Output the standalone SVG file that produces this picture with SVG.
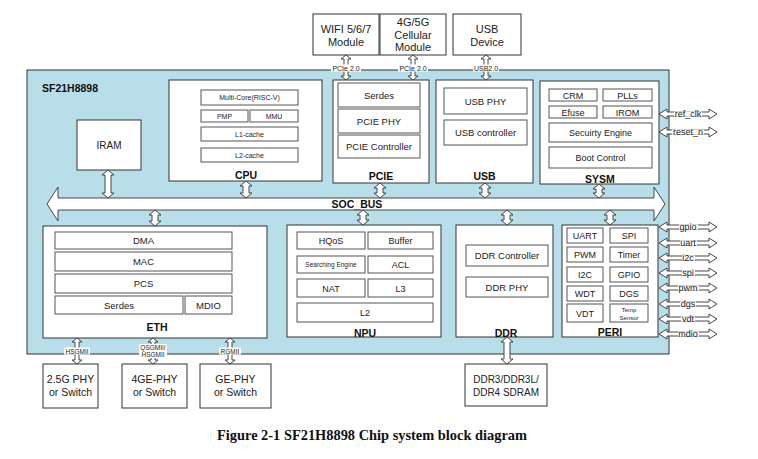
<svg xmlns="http://www.w3.org/2000/svg" xmlns:xlink="http://www.w3.org/1999/xlink" width="758" height="459" viewBox="0 0 758 459">
<style>
.chip{fill:#b8dee9;stroke:#333;stroke-width:1}
.box{fill:#fff;stroke:#333;stroke-width:1}
.sub{fill:#fff;stroke:#555;stroke-width:1}
.arr{fill:#fff;stroke:#333;stroke-width:0.9}
.bg{fill:#fff;stroke:none}
text{font-family:"Liberation Sans",Arial,Helvetica,sans-serif;fill:#222;text-anchor:middle}
.f11{font-size:11px}
.f105{font-size:10.5px}
.f10{font-size:10px}
.f95{font-size:9.5px}
.f9{font-size:9px}
.f7{font-size:7px}
.f65{font-size:6.5px}
.f6{font-size:6px}
.b{font-weight:bold;fill:#111}
.cap{font-family:"Liberation Serif","Times New Roman",serif;font-size:14.4px;font-weight:bold;fill:#111}
</style>
<defs>
<path id="sig" d="M0 0 L8 -5 V-2 H50 V-5 L58 0 L50 5 V2 H8 V5 Z"/>
</defs>
<rect width="758" height="459" fill="#fff"/>

<g id="chip">
<rect class="chip" x="27" y="70" width="642" height="284"/>
<text class="f105 b" x="42" y="92" style="text-anchor:start">SF21H8898</text>
</g>

<g id="wifi">
<rect class="box" x="313" y="14" width="66" height="41"/>
<text class="f11" x="346" y="33">WIFI 5/6/7</text>
<text class="f11" x="346" y="45.5">Module</text>
</g>
<g id="cellular">
<rect class="box" x="380" y="14" width="66" height="41"/>
<text class="f11" x="413" y="26">4G/5G</text>
<text class="f11" x="413" y="38.5">Cellular</text>
<text class="f11" x="413" y="51">Module</text>
</g>
<g id="usbdev">
<rect class="box" x="453" y="14" width="68" height="41"/>
<text class="f11" x="487" y="33">USB</text>
<text class="f11" x="487" y="45.5">Device</text>
</g>

<g id="iram">
<rect class="box" x="77" y="120" width="64" height="50"/>
<text class="f10" x="109" y="148.5">IRAM</text>
</g>

<g id="cpu">
<rect class="box" x="169" y="80" width="153" height="101"/>
<rect class="sub" x="201" y="90" width="97" height="15"/>
<text class="f7" x="249.5" y="100">Multi-Core(RISC-V)</text>
<rect class="sub" x="201" y="110" width="47" height="12"/>
<text class="f7" x="224.5" y="118.5">PMP</text>
<rect class="sub" x="250" y="110" width="48" height="12"/>
<text class="f7" x="274" y="118.5">MMU</text>
<rect class="sub" x="201" y="127" width="97" height="14"/>
<text class="f7" x="249.5" y="136.5">L1-cache</text>
<rect class="sub" x="201" y="148" width="97" height="14"/>
<text class="f7" x="249.5" y="157.5">L2-cache</text>
<text class="f105 b" x="246" y="179">CPU</text>
</g>

<g id="pcie">
<rect class="box" x="333" y="80" width="96" height="103"/>
<rect class="sub" x="338" y="83" width="82" height="24"/>
<text class="f95" x="379" y="98.5">Serdes</text>
<rect class="sub" x="338" y="109" width="82" height="24"/>
<text class="f95" x="379" y="124.5">PCIE PHY</text>
<rect class="sub" x="338" y="135" width="82" height="23"/>
<text class="f95" x="379" y="150">PCIE Controller</text>
<text class="f105 b" x="381" y="180">PCIE</text>
</g>

<g id="usb">
<rect class="box" x="436" y="80" width="97" height="103"/>
<rect class="sub" x="444" y="88" width="83" height="26"/>
<text class="f95" x="485.5" y="104.5">USB PHY</text>
<rect class="sub" x="444" y="120" width="83" height="25"/>
<text class="f95" x="485.5" y="136">USB controller</text>
<text class="f105 b" x="484.5" y="180">USB</text>
</g>

<g id="sysm">
<rect class="box" x="540" y="81" width="119" height="103"/>
<rect class="sub" x="549" y="89" width="48" height="12"/>
<text class="f9" x="573" y="98.5">CRM</text>
<rect class="sub" x="603" y="89" width="49" height="12"/>
<text class="f9" x="627.5" y="98.5">PLLs</text>
<rect class="sub" x="549" y="106" width="48" height="12"/>
<text class="f9" x="573" y="115.5">Efuse</text>
<rect class="sub" x="603" y="106" width="49" height="12"/>
<text class="f9" x="627.5" y="115.5">IROM</text>
<rect class="sub" x="549" y="123" width="103" height="19"/>
<text class="f9" x="600.5" y="135.5">Secuirty Engine</text>
<rect class="sub" x="549" y="147" width="103" height="21"/>
<text class="f9" x="600.5" y="161">Boot Control</text>
<text class="f105 b" x="600" y="182.5">SYSM</text>
</g>

<g id="soc_bus">
<path class="arr" d="M47 204 L58 187 V198 H654 V187 L665 204 L654 221 V210 H58 V221 Z"/>
<text class="f105 b" x="357" y="208">SOC_BUS</text>
</g>

<g id="eth">
<rect class="box" x="43" y="226" width="224" height="112"/>
<rect class="sub" x="55" y="232" width="177" height="17"/>
<text class="f95" x="143.5" y="244">DMA</text>
<rect class="sub" x="55" y="252" width="177" height="19"/>
<text class="f95" x="143.5" y="265">MAC</text>
<rect class="sub" x="55" y="274" width="177" height="19"/>
<text class="f95" x="143.5" y="287">PCS</text>
<rect class="sub" x="55" y="296" width="128" height="18"/>
<text class="f95" x="119" y="308.5">Serdes</text>
<rect class="sub" x="185" y="296" width="47" height="18"/>
<text class="f95" x="208.5" y="308.5">MDIO</text>
<text class="f105 b" x="157" y="331">ETH</text>
</g>

<g id="npu">
<rect class="box" x="287" y="225" width="154" height="112"/>
<rect class="sub" x="297" y="232" width="68" height="17"/>
<text class="f9" x="331" y="244">HQoS</text>
<rect class="sub" x="368" y="232" width="65" height="17"/>
<text class="f9" x="400.5" y="244">Buffer</text>
<rect class="sub" x="297" y="256" width="68" height="17"/>
<text class="f65" x="331" y="267">Searching Engine</text>
<rect class="sub" x="368" y="256" width="65" height="17"/>
<text class="f9" x="400.5" y="268">ACL</text>
<rect class="sub" x="297" y="279" width="68" height="18"/>
<text class="f9" x="331" y="291.5">NAT</text>
<rect class="sub" x="368" y="279" width="65" height="18"/>
<text class="f9" x="400.5" y="291.5">L3</text>
<rect class="sub" x="297" y="303" width="136" height="19"/>
<text class="f9" x="365" y="315.5">L2</text>
<text class="f105 b" x="365" y="337">NPU</text>
</g>

<g id="ddr">
<rect class="box" x="456" y="225" width="97" height="112"/>
<rect class="sub" x="466" y="245" width="82" height="21"/>
<text class="f95" x="507" y="259">DDR Controller</text>
<rect class="sub" x="466" y="277" width="82" height="20"/>
<text class="f95" x="507" y="290.5">DDR PHY</text>
<text class="f105 b" x="506" y="337">DDR</text>
</g>

<g id="peri">
<rect class="box" x="562" y="225" width="96" height="112"/>
<rect class="sub" x="567" y="228" width="36" height="15"/>
<text class="f9" x="585" y="239">UART</text>
<rect class="sub" x="610" y="228" width="38" height="15"/>
<text class="f9" x="629" y="239">SPI</text>
<rect class="sub" x="567" y="247" width="36" height="15"/>
<text class="f9" x="585" y="258">PWM</text>
<rect class="sub" x="610" y="247" width="38" height="15"/>
<text class="f9" x="629" y="258">Timer</text>
<rect class="sub" x="567" y="267" width="36" height="15"/>
<text class="f9" x="585" y="278">I2C</text>
<rect class="sub" x="610" y="267" width="38" height="15"/>
<text class="f9" x="629" y="278">GPIO</text>
<rect class="sub" x="567" y="286" width="36" height="15"/>
<text class="f9" x="585" y="297">WDT</text>
<rect class="sub" x="610" y="286" width="38" height="15"/>
<text class="f9" x="629" y="297">DGS</text>
<rect class="sub" x="567" y="304" width="36" height="18"/>
<text class="f9" x="585" y="316.5">VDT</text>
<rect class="sub" x="610" y="304" width="38" height="18"/>
<text class="f6" x="629" y="311.5">Temp</text>
<text class="f6" x="629" y="319.5">Sensor</text>
<text class="f105 b" x="610" y="336">PERI</text>
</g>

<g id="phy25">
<rect class="box" x="43" y="364" width="55" height="44"/>
<text class="f105" x="70.5" y="383">2.5G PHY</text>
<text class="f105" x="70.5" y="396">or Switch</text>
</g>
<g id="phy4ge">
<rect class="box" x="122" y="364" width="65" height="44"/>
<text class="f105" x="154.5" y="383">4GE-PHY</text>
<text class="f105" x="154.5" y="396">or Switch</text>
</g>
<g id="phyge">
<rect class="box" x="200" y="364" width="71" height="44"/>
<text class="f105" x="235.5" y="383">GE-PHY</text>
<text class="f105" x="235.5" y="396">or Switch</text>
</g>
<g id="sdram">
<rect class="box" x="465" y="364" width="82" height="42"/>
<text class="f10" x="506" y="383">DDR3/DDR3L/</text>
<text class="f10" x="506" y="396">DDR4 SDRAM</text>
</g>

<g id="connectors">
<path class="arr" d="M346 55 L351 59 H348 V76 H351 L346 80 L341 76 H344 V59 H341 Z"/>
<path class="arr" d="M413 55 L418 59 H415 V76 H418 L413 80 L408 76 H411 V59 H408 Z"/>
<path class="arr" d="M486 55 L491 59 H488 V76 H491 L486 80 L481 76 H484 V59 H481 Z"/>
<rect class="bg" x="331" y="64.5" width="30" height="7"/>
<text class="f7" x="346" y="70.5">PCIe 2.0</text>
<rect class="bg" x="398" y="64.5" width="30" height="7"/>
<text class="f7" x="413" y="70.5">PCIe 2.0</text>
<rect class="bg" x="473" y="64.5" width="26" height="7"/>
<text class="f7" x="486" y="70.5">USB2.0</text>

<path class="arr" d="M108 170 L114 175 H111 V193 H114 L108 198 L102 193 H105 V175 H102 Z"/>
<path class="arr" d="M246 181 L252 186 H249 V193 H252 L246 198 L240 193 H243 V186 H240 Z"/>
<path class="arr" d="M380 183 L386 188 H383 V193 H386 L380 198 L374 193 H377 V188 H374 Z"/>
<path class="arr" d="M485 183 L491 188 H488 V193 H491 L485 198 L479 193 H482 V188 H479 Z"/>
<path class="arr" d="M599 184 L605 189 H602 V193 H605 L599 198 L593 193 H596 V189 H593 Z"/>
<path class="arr" d="M155 210 L161 215 H158 V221 H161 L155 226 L149 221 H152 V215 H149 Z"/>
<path class="arr" d="M363 210 L369 215 H366 V220 H369 L363 225 L357 220 H360 V215 H357 Z"/>
<path class="arr" d="M507 210 L513 215 H510 V220 H513 L507 225 L501 220 H504 V215 H501 Z"/>
<path class="arr" d="M610 210 L616 215 H613 V220 H616 L610 225 L604 220 H607 V215 H604 Z"/>

<path class="arr" d="M507 337 L513 342 H510 V359 H513 L507 364 L501 359 H504 V342 H501 Z"/>
<path class="arr" d="M77 338 L82 342 H79 V360 H82 L77 364 L72 360 H75 V342 H72 Z"/>
<path class="arr" d="M153 338 L158 342 H155 V360 H158 L153 364 L148 360 H151 V342 H148 Z"/>
<path class="arr" d="M230 338 L235 342 H232 V360 H235 L230 364 L225 360 H228 V342 H225 Z"/>
<rect class="bg" x="64" y="347.5" width="26" height="7"/>
<text class="f65" x="77" y="353.5">HSGMII</text>
<rect class="bg" x="139" y="344" width="28" height="14"/>
<text class="f65" x="153" y="350">QSGMII/</text>
<text class="f65" x="153" y="357">HSGMII</text>
<rect class="bg" x="219" y="347.5" width="22" height="7"/>
<text class="f65" x="230" y="353.5">RGMII</text>

<use href="#sig" xlink:href="#sig" class="arr" x="659" y="114"/>
<use href="#sig" xlink:href="#sig" class="arr" x="659" y="132"/>
<use href="#sig" xlink:href="#sig" class="arr" x="659" y="227"/>
<use href="#sig" xlink:href="#sig" class="arr" x="659" y="243"/>
<use href="#sig" xlink:href="#sig" class="arr" x="659" y="258"/>
<use href="#sig" xlink:href="#sig" class="arr" x="659" y="273"/>
<use href="#sig" xlink:href="#sig" class="arr" x="659" y="288"/>
<use href="#sig" xlink:href="#sig" class="arr" x="659" y="304"/>
<use href="#sig" xlink:href="#sig" class="arr" x="659" y="319"/>
<use href="#sig" xlink:href="#sig" class="arr" x="659" y="334"/>
<rect class="bg" x="674" y="111.5" width="28" height="5"/>
<text class="f9" x="688" y="117">ref_clk</text>
<rect class="bg" x="672" y="129.5" width="32" height="5"/>
<text class="f9" x="688" y="135">reset_n</text>
<rect class="bg" x="679" y="224.5" width="19" height="5"/>
<text class="f9" x="688" y="229.5">gpio</text>
<rect class="bg" x="680" y="240.5" width="17" height="5"/>
<text class="f9" x="688" y="245.5">uart</text>
<rect class="bg" x="682" y="255.5" width="13" height="5"/>
<text class="f9" x="688" y="260.5">i2c</text>
<rect class="bg" x="682" y="270.5" width="13" height="5"/>
<text class="f9" x="688" y="275.5">spi</text>
<rect class="bg" x="678" y="285.5" width="21" height="5"/>
<text class="f9" x="688" y="290.5">pwm</text>
<rect class="bg" x="680" y="301.5" width="16" height="5"/>
<text class="f9" x="688" y="306.5">dgs</text>
<rect class="bg" x="681" y="316.5" width="14" height="5"/>
<text class="f9" x="688" y="321.5">vdt</text>
<rect class="bg" x="678" y="331.5" width="21" height="5"/>
<text class="f9" x="688" y="336.5">mdio</text>
</g>

<text class="cap" x="372" y="440">Figure 2-1 SF21H8898 Chip system block diagram</text>
</svg>
